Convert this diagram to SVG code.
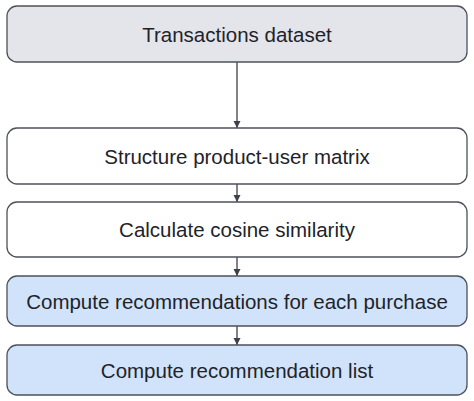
<svg xmlns="http://www.w3.org/2000/svg" width="474" height="401" viewBox="0 0 474 401">
<style>
.box{stroke:#4d5159;stroke-width:1.3}
.grey{fill:#e3e5ea}
.white{fill:#ffffff}
.blue{fill:#d0e3fb}
.lbl{font-family:"Liberation Sans",Arial,sans-serif;font-size:20.5px;fill:#1f2329;text-anchor:middle;dominant-baseline:central}
.conn{stroke:#3d4047;stroke-width:1.3;fill:none}
</style>
<defs>
<marker id="ah" viewBox="0 0 10 10" refX="10" refY="5" markerWidth="7" markerHeight="9" markerUnits="userSpaceOnUse" orient="auto">
<path d="M0,0 L10,5 L0,10 z" fill="#3d4047"/>
</marker>
</defs>
<rect width="474" height="401" fill="#ffffff"/>
<g id="connectors">
<line class="conn" x1="237" y1="62" x2="237" y2="128" marker-end="url(#ah)"/>
<line class="conn" x1="237" y1="184" x2="237" y2="202" marker-end="url(#ah)"/>
<line class="conn" x1="237" y1="257" x2="237" y2="276" marker-end="url(#ah)"/>
<line class="conn" x1="237" y1="326" x2="237" y2="345" marker-end="url(#ah)"/>
</g>
<g id="n1">
<rect class="box grey" x="7" y="6" width="460" height="56" rx="10"/>
<text class="lbl" x="237" y="34">Transactions dataset</text>
</g>
<g id="n2">
<rect class="box white" x="7" y="128" width="460" height="56" rx="10"/>
<text class="lbl" x="237" y="156">Structure product-user matrix</text>
</g>
<g id="n3">
<rect class="box white" x="7" y="202" width="460" height="55" rx="10"/>
<text class="lbl" x="237" y="229.5">Calculate cosine similarity</text>
</g>
<g id="n4">
<rect class="box blue" x="7" y="276" width="460" height="50" rx="10"/>
<text class="lbl" x="237" y="301">Compute recommendations for each purchase</text>
</g>
<g id="n5">
<rect class="box blue" x="7" y="345" width="460" height="50" rx="10"/>
<text class="lbl" x="237" y="370">Compute recommendation list</text>
</g>
</svg>
